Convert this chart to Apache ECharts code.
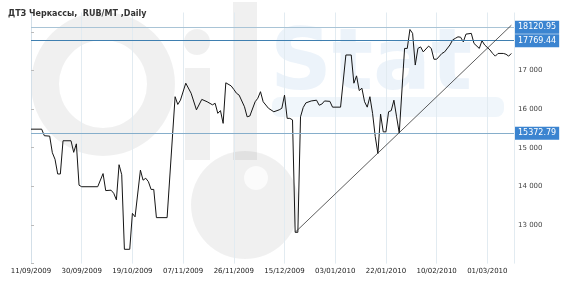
<!DOCTYPE html>
<html>
<head>
<meta charset="utf-8">
<script src="https://cdn.jsdelivr.net/npm/echarts@6/dist/echarts.min.js"></script>
<style>
html,body{margin:0;padding:0;background:#fff;}
#chart{width:570px;height:300px;}
</style>
</head>
<body>
<div id="chart"></div>
<script>
const titleText = 'ДТЗ Черкассы,  RUB/MT ,Daily';
const startDate = '2009-09-11';
const xTickLabels = ['11/09/2009','30/09/2009','19/10/2009','07/11/2009','26/11/2009','15/12/2009','03/01/2010','22/01/2010','10/02/2010','01/03/2010'];
const tickStepDays = 19;
const lastDay = 181;
const dates = [
'2009-09-11','2009-09-15','2009-09-16','2009-09-18','2009-09-19','2009-09-20','2009-09-21','2009-09-22','2009-09-23','2009-09-26',
'2009-09-27','2009-09-28','2009-09-29','2009-09-30','2009-10-06','2009-10-08','2009-10-09','2009-10-11','2009-10-12','2009-10-13',
'2009-10-14','2009-10-15','2009-10-16','2009-10-18','2009-10-19','2009-10-20','2009-10-22','2009-10-23','2009-10-24','2009-10-25',
'2009-10-26','2009-10-27','2009-10-28','2009-11-01','2009-11-04','2009-11-05','2009-11-06','2009-11-08','2009-11-10','2009-11-12',
'2009-11-14','2009-11-16','2009-11-18','2009-11-19','2009-11-20','2009-11-21','2009-11-22','2009-11-23','2009-11-25','2009-11-26',
'2009-11-27','2009-11-28','2009-11-30','2009-12-01','2009-12-02','2009-12-04','2009-12-05','2009-12-06','2009-12-07','2009-12-09',
'2009-12-11','2009-12-13','2009-12-14','2009-12-15','2009-12-16','2009-12-17','2009-12-18','2009-12-19','2009-12-20','2009-12-21',
'2009-12-22','2009-12-23','2009-12-25','2009-12-27','2009-12-28','2009-12-29','2009-12-30','2010-01-01','2010-01-02','2010-01-05',
'2010-01-07','2010-01-09','2010-01-10','2010-01-11','2010-01-12','2010-01-13','2010-01-14','2010-01-15','2010-01-16','2010-01-17',
'2010-01-18','2010-01-19','2010-01-20','2010-01-21','2010-01-22','2010-01-23','2010-01-24','2010-01-25','2010-01-26','2010-01-27',
'2010-01-29','2010-01-30','2010-01-31','2010-02-01','2010-02-02','2010-02-03','2010-02-04','2010-02-05','2010-02-07','2010-02-08',
'2010-02-09','2010-02-10','2010-02-12','2010-02-13','2010-02-15','2010-02-16','2010-02-17','2010-02-18','2010-02-19','2010-02-20',
'2010-02-21','2010-02-23','2010-02-24','2010-02-26','2010-02-27','2010-02-28','2010-03-02','2010-03-03','2010-03-04','2010-03-05',
'2010-03-07','2010-03-08','2010-03-09','2010-03-10'
];
const prices = [
15480,15480,15310,15300,14870,14700,14320,14320,15180,15180,
14880,15100,14030,13990,13990,14330,13890,13900,13820,13650,
14560,14300,12370,12370,13300,13210,14420,14160,14210,14120,
13920,13920,13190,13190,16320,16120,16230,16670,16410,15980,
16250,16190,16110,16150,15890,15960,15630,16680,16600,16510,
16410,16360,16060,15800,15820,16190,16280,16450,16190,16020,
15930,15980,16020,16360,15760,15760,15720,12810,12810,15800,
16040,16160,16210,16230,16100,16130,16210,16200,16050,16050,
17400,17400,16670,16860,16480,16540,16190,16050,16320,15890,
15290,14850,15870,15410,15410,15930,15960,16230,15800,15380,
17570,17570,18060,17960,17140,17570,17610,17480,17630,17570,
17290,17290,17440,17480,17660,17790,17830,17870,17860,17740,
17940,17960,17700,17570,17770,17660,17530,17440,17370,17440,
17440,17420,17370,17440
];
const levelValues = [18120.95, 17769.44, 15372.79];
const levelColors = ['#a9c4d6', '#3f7fb0', '#86aecb'];
const trendStart = ['2009-12-19', 12810];
const trendEnd = ['2010-03-10', 18170];

const DAY = 86400000;
function dayIndex(s) {
  const p = s.split('-').map(Number);
  const q = startDate.split('-').map(Number);
  return Math.round((Date.UTC(p[0], p[1]-1, p[2]) - Date.UTC(q[0], q[1]-1, q[2])) / DAY);
}
const seriesData = dates.map((d, i) => [dayIndex(d), prices[i]]);

const chart = echarts.init(document.getElementById('chart'), null, {renderer: 'canvas'});
const wm = 'rgba(0,0,0,0.06)';
const wmBlue = 'rgba(70,140,210,0.10)';
chart.setOption({
  animation: false,
  backgroundColor: '#fff',
  title: {
    text: titleText, left: 3, top: 5,
    textStyle: {fontSize: 8, fontWeight: 'bold', fontFamily: 'DejaVu Sans', color: '#333'}
  },
  graphic: [
    {type: 'ring', z: 0, shape: {cx: 103, cy: 84, r: 72, r0: 44}, style: {fill: wm}},
    {type: 'rect', z: 0, shape: {x: 185, y: 68, width: 25, height: 92}, style: {fill: wm}},
    {type: 'circle', z: 0, shape: {cx: 197, cy: 42, r: 13}, style: {fill: wm}},
    {type: 'rect', z: 0, shape: {x: 233, y: 2, width: 24, height: 158}, style: {fill: wm}},
    {type: 'circle', z: 0, shape: {cx: 245, cy: 205, r: 54}, style: {fill: wm}},
    {type: 'circle', z: 0, shape: {cx: 256, cy: 178, r: 12}, style: {fill: 'rgba(255,255,255,0.7)'}},
    {type: 'text', z: 0, x: 270, y: 24, style: {text: 'Stat', font: 'bold 86px "DejaVu Sans"', fill: wmBlue}},
    {type: 'rect', z: 0, shape: {x: 272, y: 97, width: 232, height: 20, r: 8}, style: {fill: 'rgba(70,140,210,0.08)'}}
  ],
  grid: {left: 31, right: 56, top: 12.5, bottom: 36.4},
  xAxis: {
    type: 'value', min: 0, max: lastDay, interval: tickStepDays,
    axisLine: {show: false}, axisTick: {show: false},
    splitLine: {show: true, lineStyle: {color: '#e2ebf1', width: 1}},
    axisLabel: {
      margin: 4, fontSize: 7, fontFamily: 'DejaVu Sans', color: '#222',
      formatter: v => (v % tickStepDays === 0 ? (xTickLabels[v / tickStepDays] || '') : '')
    }
  },
  yAxis: {
    type: 'value', position: 'right', min: 12000, max: 18500, interval: 1000,
    axisLine: {show: true, lineStyle: {color: '#d3dfe8'}},
    axisTick: {show: true, length: 3, lineStyle: {color: '#bbb'}},
    splitLine: {show: false},
    axisLabel: {
      margin: 4, fontSize: 7, fontFamily: 'DejaVu Sans', color: '#444',
      formatter: v => (v >= 13000 && v <= 17000 ? (v / 1000) + ' 000' : '')
    }
  },
  series: [{
    type: 'line', data: seriesData, showSymbol: false, symbol: 'none',
    lineStyle: {color: '#151515', width: 1}, z: 3,
    markLine: {
      silent: true, symbol: 'none', animation: false,
      data: levelValues.map((v, i) => ({
        yAxis: v,
        lineStyle: {color: levelColors[i], width: 1, type: 'solid'},
        label: {
          show: true, position: 'end', distance: 1, formatter: v.toFixed(2),
          backgroundColor: '#3b84d0', color: '#fff', fontSize: 8, fontFamily: 'DejaVu Sans',
          padding: [3, 3, 2, 3]
        }
      })).concat([[
        {coord: [dayIndex(trendStart[0]), trendStart[1]], lineStyle: {color: '#333', width: 0.8, type: 'solid'}, label: {show: false}},
        {coord: [dayIndex(trendEnd[0]), trendEnd[1]]}
      ]])
    }
  }]
});
</script>
</body>
</html>
